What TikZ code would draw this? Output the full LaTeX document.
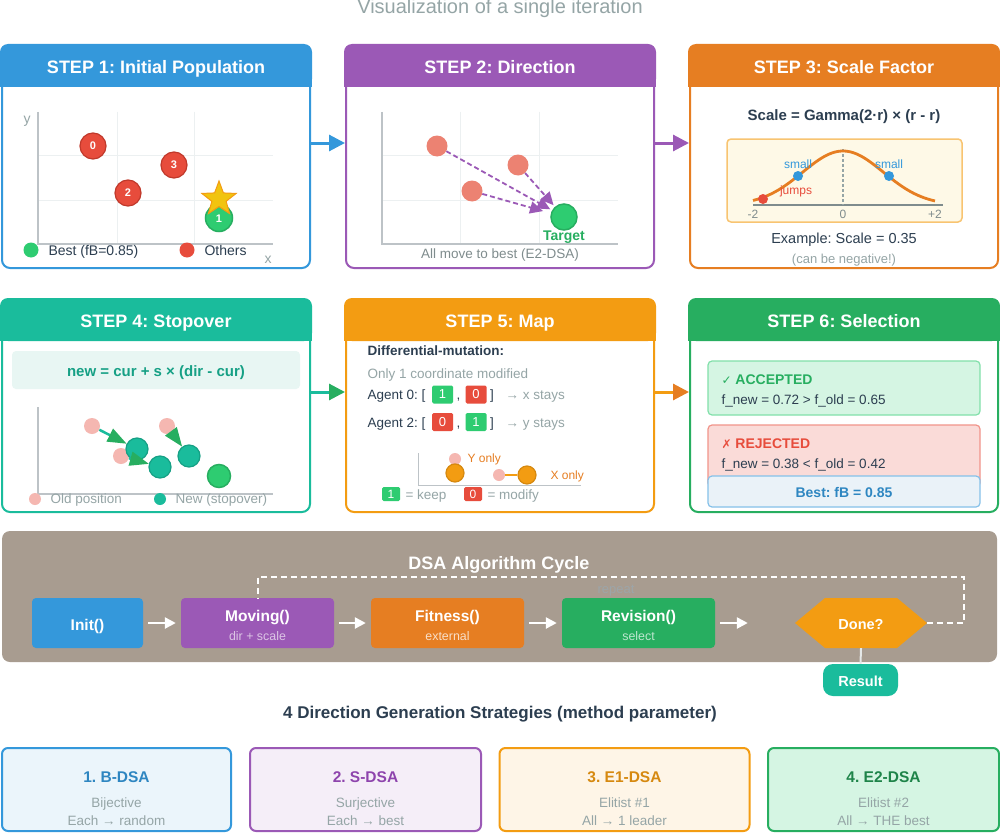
\documentclass[tikz,border=0pt]{standalone}
\usepackage{fontspec}
\setmainfont{Liberation Sans}
\newfontfamily\djv{DejaVu Sans}
\usetikzlibrary{arrows.meta,shapes.geometric}
\frenchspacing
\definecolor{cblue}{HTML}{3498DB}
\definecolor{cbluet}{HTML}{2E86C1}
\definecolor{cpurple}{HTML}{9B59B6}
\definecolor{cpurplet}{HTML}{8E44AD}
\definecolor{corange}{HTML}{E67E22}
\definecolor{cteal}{HTML}{1ABC9C}
\definecolor{ctealt}{HTML}{16A085}
\definecolor{cyell}{HTML}{F39C12}
\definecolor{cyellt}{HTML}{D68910}
\definecolor{cgreen}{HTML}{27AE60}
\definecolor{cgreent}{HTML}{1E8449}
\definecolor{cgreenl}{HTML}{2ECC71}
\definecolor{cdark}{HTML}{2C3E50}
\definecolor{cgray}{HTML}{7F8C8D}
\definecolor{cgrayl}{HTML}{95A5A6}
\definecolor{cred}{HTML}{E74C3C}
\definecolor{credd}{HTML}{C0392B}
\definecolor{csalmon}{HTML}{EC8272}
\definecolor{cpink}{HTML}{F5B7B1}
\definecolor{cgrid}{HTML}{ECF0F1}
\definecolor{caxis}{HTML}{BDC3C7}
\definecolor{ccyc}{HTML}{A89C90}
\definecolor{cstar}{HTML}{F1C40F}
\definecolor{cinner}{HTML}{FEF9E7}
\definecolor{cinnerb}{HTML}{F8C471}
\definecolor{cform}{HTML}{E8F6F3}
\definecolor{cacc}{HTML}{D5F5E3}
\definecolor{caccb}{HTML}{82E0AA}
\definecolor{crej}{HTML}{FADBD8}
\definecolor{crejb}{HTML}{F1948A}
\definecolor{cbest}{HTML}{EAF2F8}
\definecolor{cbestb}{HTML}{85C1E9}
\definecolor{cs1}{HTML}{EBF5FB}
\definecolor{cs2}{HTML}{F5EEF8}
\definecolor{cs3}{HTML}{FEF5E7}
\definecolor{crep}{HTML}{9DA5A8}
\newcommand{\fsz}[1]{\fontsize{#1}{#1}\selectfont}
\tikzset{
  panel/.style={draw=#1, line width=2pt, rounded corners=8pt, fill=white, minimum width=308pt, inner sep=0pt},
  htext/.style={text=white, font=\bfseries\fsz{18}, anchor=base},
  parr/.style={line width=3pt, #1, -{Triangle[length=16pt,width=16pt]}},
  gridl/.style={cgrid, line width=1pt},
  axisl/.style={caxis, line width=1.5pt},
  rc/.style={circle, fill=cred, draw=credd, line width=1.2pt, minimum size=26pt, inner sep=0pt, text=white, font=\bfseries\fsz{11}},
  gc/.style={circle, fill=cgreenl, draw=cgreen, line width=1.5pt, minimum size=#1, inner sep=0pt, text=white, font=\bfseries\fsz{11}},
  dot/.style={circle, fill=#1, minimum size=10pt, inner sep=0pt},
  sal/.style={circle, fill=csalmon, minimum size=21pt, inner sep=0pt},
  darr/.style={cpurple, dash pattern=on 5pt off 3pt, line width=1.8pt, -{Triangle[length=13pt,width=12pt]}, shorten >=2pt},
  pk/.style={circle, fill=cpink, minimum size=#1, inner sep=0pt},
  tc/.style={circle, fill=cteal, draw=ctealt, line width=1.2pt, minimum size=22pt, inner sep=0pt},
  garr/.style={cteal, line width=2.5pt, -{Triangle[length=19pt,width=14pt,color=cgreen]}},
  kb/.style={fill=#1, minimum width=21pt, minimum height=18pt, inner sep=0pt, text=white, font=\fsz{13}, rounded corners=1.5pt},
  lb/.style={fill=#1, minimum width=18pt, minimum height=14pt, inner sep=0pt, text=white, font=\fsz{12}, rounded corners=1.5pt},
  oc/.style={circle, fill=cyell, draw=cyellt, line width=1.2pt, minimum size=18pt, inner sep=0pt},
  sbox/.style={rounded corners=4pt, line width=1.2pt, minimum width=272pt, inner sep=0pt},
  cbox/.style={fill=#1, rounded corners=4pt, minimum height=50pt, inner sep=0pt},
  ct/.style={anchor=base, text=white, font=\bfseries\fsz{15.5}},
  cs/.style={anchor=base, text=#1, font=\fsz{12.4}},
  warr/.style={white, line width=2.5pt, -{Triangle[length=11pt,width=11pt]}},
  strat/.style={draw=#1, line width=2pt, rounded corners=6pt, minimum height=83pt, inner sep=0pt},
  stt/.style={anchor=base, text=#1, font=\bfseries\fsz{15.5}},
  sts/.style={anchor=base, text=cgrayl, font=\fsz{13.5}},
}
\begin{document}
\begin{tikzpicture}[x=1pt,y=-1pt]
\useasboundingbox (0,0) rectangle (1000,832);
\fill[white] (0,0) rectangle (1000,832);

% title
\node[anchor=base, text=cgrayl, font=\fsz{20}] (title) at (500,14) {Visualization of a single iteration};

% ---------- panels
\node[panel=cblue, minimum height=222pt] (p1) at (156,157) {};
\node[panel=cpurple, minimum height=222pt] (p2) at (500,157) {};
\node[panel=corange, minimum height=222pt] (p3) at (844,157) {};
\node[panel=cteal, minimum height=212pt] (p4) at (156,406) {};
\node[panel=cyell, minimum height=212pt] (p5) at (500,406) {};
\node[panel=cgreen, minimum height=212pt] (p6) at (844,406) {};
\foreach \p/\c in {p1/cblue,p2/cpurple,p3/corange,p4/cteal,p5/cyell,p6/cgreen}{
  \fill[\c, rounded corners=8pt] ([xshift=-1pt,yshift=1pt]\p.north west) rectangle ([xshift=1pt,yshift=-42pt]\p.north east);
  \fill[\c] ([xshift=-1pt,yshift=-30pt]\p.north west) rectangle ([xshift=1pt,yshift=-42pt]\p.north east);
}
\node[htext] (h1) at ([yshift=-29pt]p1.north) {STEP 1: Initial Population};
\node[htext] (h2) at ([yshift=-29pt]p2.north) {STEP 2: Direction};
\node[htext] (h3) at ([yshift=-29pt]p3.north) {STEP 3: Scale Factor};
\node[htext] (h4) at ([yshift=-28pt]p4.north) {STEP 4: Stopover};
\node[htext] (h5) at ([yshift=-28pt]p5.north) {STEP 5: Map};
\node[htext] (h6) at ([yshift=-28pt]p6.north) {STEP 6: Selection};

% panel arrows
\draw[parr=cblue] ([yshift=14pt]p1.east) -- ([yshift=14pt]p2.west);
\draw[parr=cpurple] ([yshift=14pt]p2.east) -- ([yshift=14pt]p3.west);
\draw[line width=3pt, cteal, -{Triangle[length=16pt,width=16pt,color=cgreen]}] ([yshift=14pt]p4.east) -- ([yshift=14pt]p5.west);
\draw[line width=3pt, cyell, -{Triangle[length=16pt,width=16pt,color=corange]}] ([yshift=14pt]p5.east) -- ([yshift=14pt]p6.west);

% ---------- STEP 1
\draw[gridl] (117,112) -- (117,244) (194,112) -- (194,244) (38,155) -- (273,155) (38,200) -- (273,200);
\draw[axisl] (38,112) -- (38,244) -- (273,244);
\node[anchor=base, text=cgrayl, font=\fsz{14}] (ylab) at (27,124) {y};
\node[anchor=base, text=cgrayl, font=\fsz{14}] (xlab) at (268,263) {x};
\node[rc] (a0) at (93,146) {0};
\node[rc] (a3) at (174,165) {3};
\node[rc] (a2) at (128,193) {2};
\node[gc=27pt] (a1) at (219,218) {};
\node[star, star points=5, star point ratio=2.4, fill=cstar, draw=cyell, line width=1pt, minimum size=36pt, inner sep=0pt] (st) at (219,199) {};
\node[text=white, font=\bfseries\fsz{11}] (a1t) at (219,219) {1};
\node[dot=cgreenl, minimum size=15pt] (lg1) at (31,250) {};
\node[anchor=base west, font=\fsz{14}, text=cdark] (lt1) at (45,255) {Best (fB=0.85)};
\node[dot=cred, minimum size=15pt] (lg2) at (187,250) {};
\node[anchor=base west, font=\fsz{14}, text=cdark] (lt2) at (201,255) {Others};

% ---------- STEP 2
\draw[gridl] (460,112) -- (460,244) (539,112) -- (539,244) (382,155) -- (618,155) (382,200) -- (618,200);
\draw[axisl] (382,112) -- (382,244) -- (618,244);
\node[sal] (b0) at (437,146) {};
\node[sal] (b1) at (518,165) {};
\node[sal] (b2) at (472,191) {};
\node[gc=26pt] (tg) at (564,217) {};
\draw[darr] (b0) -- (tg);
\draw[darr] (b1) -- (tg);
\draw[darr, shorten >=8pt] (b2) -- (tg);
\node[anchor=base, font=\bfseries\fsz{14}, text=cgreen] (tl) at (564,240) {Target};
\node[anchor=base, font=\fsz{13.5}, text=cgray] (cap2) at (500,258) {All move to best (E2-DSA)};

% ---------- STEP 3
\node[anchor=base, font=\bfseries\fsz{15}, text=cdark] (form3) at (844,121) {Scale = Gamma(2·r) × (r - r)};
\node[draw=cinnerb, fill=cinner, rounded corners=4pt, line width=1.5pt, minimum width=235pt, minimum height=83pt, inner sep=0pt] (sb) at (844.5,180.5) {};
\draw[cgray, line width=1.2pt] (753,205) -- (943,205);
\draw[cgrayl, dash pattern=on 3pt off 2pt, line width=1.2pt] (843,149) -- (843,205);
\draw[corange, line width=2.8pt, line join=round] plot[domain=753:935, samples=40, smooth] (\x, {205-54*exp(-((\x-843)^2)/3266)});
\node[dot=cred] (pj) at (763,199) {};
\node[dot=cblue] (ps1) at (798,176) {};
\node[dot=cblue] (ps2) at (889,176) {};
\node[anchor=base, font=\fsz{12}, text=cblue] (ls1) at (798,168) {small};
\node[anchor=base, font=\fsz{12}, text=cblue] (ls2) at (889,168) {small};
\node[anchor=base, font=\fsz{12}, text=cred] (lj) at (796,194) {jumps};
\node[anchor=base, font=\fsz{12}, text=cgray] (tk1) at (753,218) {-2};
\node[anchor=base, font=\fsz{12}, text=cgray] (tk2) at (843,218) {0};
\node[anchor=base, font=\fsz{12}, text=cgray] (tk3) at (935,218) {+2};
\node[anchor=base, font=\fsz{14.5}, text=cdark] (ex3) at (844,243) {Example: Scale = 0.35};
\node[anchor=base, font=\fsz{13}, text=cgrayl] (neg3) at (844,263) {(can be negative!)};

% ---------- STEP 4
\node[fill=cform, rounded corners=4pt, minimum width=288pt, minimum height=38pt, inner sep=0pt] (fb) at (156,370) {};
\node[anchor=base, font=\bfseries\fsz{15}, text=ctealt] (fbt) at (156,376) {new = cur + s × (dir - cur)};
\draw[axisl] (38,407) -- (38,494) -- (273,494);
\node[pk=16pt] (o1) at (92,426) {};
\node[pk=16pt] (o2) at (167,426) {};
\node[pk=16pt] (o3) at (121,456) {};
\node[tc] (n1) at (137,449) {};
\node[tc] (n2) at (160,467) {};
\node[tc] (n3) at (189,456) {};
\node[gc=23pt] (g4) at (219,476) {};
\draw[garr] (o1) -- (n1);
\draw[garr] (o2) -- (n3);
\draw[garr] (o3) -- (n2);
\node[pk=12pt] (lo) at (35,499) {};
\node[anchor=base west, font=\fsz{13.5}, text=cgrayl] (lot) at (47,503) {Old position};
\node[circle, fill=cteal, minimum size=12pt, inner sep=0pt] (ln) at (160,499) {};
\node[anchor=base west, font=\fsz{13.5}, text=cgrayl] (lnt) at (172,503) {New (stopover)};

% ---------- STEP 5
\node[anchor=base west, font=\bfseries\fsz{13.5}, text=cdark] (dm) at (364,355) {Differential-mutation:};
\node[anchor=base west, font=\fsz{13.5}, text=cgrayl] (oc1) at (364,378) {Only 1 coordinate modified};
\node[anchor=base west, font=\fsz{13.5}, text=cdark] (ag0) at (364,399) {Agent 0: [};
\node[kb=cgreenl] (k01) at (442.5,394.5) {1};
\node[anchor=base, font=\fsz{13.5}, text=cdark] (c0) at (458.5,399) {,};
\node[kb=cred] (k02) at (476,394.5) {0};
\node[anchor=base, font=\fsz{13.5}, text=cdark] (r0) at (492,399) {]};
\node[anchor=base west, font=\fsz{13.5}, text=cgrayl] (s0) at (502,399) {→ x stays};
\node[anchor=base west, font=\fsz{13.5}, text=cdark] (ag2) at (364,427) {Agent 2: [};
\node[kb=cred] (k21) at (442.5,422) {0};
\node[anchor=base, font=\fsz{13.5}, text=cdark] (c2) at (458.5,427) {,};
\node[kb=cgreenl] (k22) at (476,422) {1};
\node[anchor=base, font=\fsz{13.5}, text=cdark] (r2) at (492,427) {]};
\node[anchor=base west, font=\fsz{13.5}, text=cgrayl] (s2) at (502,427) {→ y stays};
\draw[caxis, line width=1pt] (418,453) -- (418,485) -- (581,485);
\node[pk=12pt] (my0) at (455,459) {};
\node[oc] (my1) at (455,473) {};
\node[anchor=base west, font=\fsz{12}, text=corange] (yo) at (464,462) {Y only};
\node[pk=12pt] (mx0) at (499,475) {};
\node[oc] (mx1) at (527,475) {};
\draw[cyell, line width=1.5pt] (mx0) -- (mx1);
\node[anchor=base west, font=\fsz{12}, text=corange] (xo) at (547,479) {X only};
\node[lb=cgreenl] (lk) at (391,494) {1};
\node[anchor=base west, font=\fsz{13.5}, text=cgrayl] (lkt) at (402,499) {= keep};
\node[lb=cred] (lm) at (473,494) {0};
\node[anchor=base west, font=\fsz{13.5}, text=cgrayl] (lmt) at (484,499) {= modify};

% ---------- STEP 6
\node[sbox, draw=caccb, fill=cacc, minimum height=54pt] (acc) at (844,388) {};
\node[anchor=base west, font=\bfseries\fsz{14}, text=cgreen] (acct) at (718,384) {{\djv\mdseries\fsz{12}✓}\ ACCEPTED};
\node[anchor=base west, font=\fsz{13.5}, text=cdark] (accs) at (718,404) {f\_new = 0.72 > f\_old = 0.65};
\node[sbox, draw=crejb, fill=crej, minimum height=62pt] (rej) at (844,456) {};
\node[anchor=base west, font=\bfseries\fsz{14}, text=cred] (rejt) at (718,448) {{\djv\mdseries\fsz{12}✗}\ REJECTED};
\node[anchor=base west, font=\fsz{13.5}, text=cdark] (rejs) at (718,468) {f\_new = 0.38 < f\_old = 0.42};
\node[sbox, draw=cbestb, fill=cbest, minimum height=31pt] (best) at (844,491.5) {};
\node[anchor=base, font=\bfseries\fsz{14}, text=cbluet] (bestt) at (844,497) {Best: fB = 0.85};

% ---------- Cycle
\node[fill=ccyc, rounded corners=8pt, minimum width=995pt, minimum height=131pt, inner sep=0pt] (cyc) at (499.5,596.5) {};
\node[anchor=base, text=white, font=\bfseries\fsz{18}] (cyct) at (499,569) {DSA Algorithm Cycle};
\node[anchor=base, text=crep, font=\fsz{13}] (rep) at (616,593) {repeat};
\node[cbox=cblue, minimum width=111pt] (init) at (87.5,623) {};
\node[cbox=cpurple, minimum width=153pt] (mov) at (257.5,623) {};
\node[cbox=corange, minimum width=153pt] (fit) at (447.5,623) {};
\node[cbox=cgreen, minimum width=153pt] (rev) at (638.5,623) {};
\node[ct] (initt) at (87.5,630) {Init()};
\node[ct] (movt) at (257.5,621) {Moving()};
\node[cs=white!65!cpurple] (movs) at (257.5,640) {dir + scale};
\node[ct] (fitt) at (447.5,621) {Fitness()};
\node[cs=white!75!corange] (fits) at (447.5,640) {external};
\node[ct] (revt) at (638.5,621) {Revision()};
\node[cs=white!70!cgreen] (revs) at (638.5,640) {select};
\fill[cyell] (795,623) -- (825,598) -- (897,598) -- (927,623) -- (897,648) -- (825,648) -- cycle;
\node[minimum width=132pt, minimum height=50pt, inner sep=0pt] (done) at (861,623) {};
\node[anchor=base, text=white, font=\bfseries\fsz{14.5}] (donet) at (861,629) {Done?};
\node[fill=cteal, rounded corners=10pt, minimum width=75pt, minimum height=32pt, inner sep=0pt] (res) at (860.5,680) {};
\node[anchor=base, text=white, font=\bfseries\fsz{14.5}] (rest) at (860.5,686) {Result};
\draw[warr, shorten <=5pt, shorten >=5pt] (init) -- (mov);
\draw[warr, shorten <=5pt, shorten >=5pt] (mov) -- (fit);
\draw[warr, shorten <=5pt, shorten >=5pt] (fit) -- (rev);
\draw[warr, shorten <=5pt, shorten >=47pt] (rev) -- (done);
\coordinate (lp1) at (964,623);
\coordinate (lp2) at (964,577);
\draw[white, line width=2pt, dash pattern=on 6pt off 4pt] (done.east) -- (lp1) -- (lp2) -- (mov.north |- lp2) -- (mov.north);
\draw[white!80!cgray, line width=2pt] (done.south) -- (res.north);

% ---------- Strategies
\node[anchor=base, text=cdark, font=\bfseries\fsz{17}] (sttl) at (500,718) {4 Direction Generation Strategies (method parameter)};
\node[strat=cblue, fill=cs1, minimum width=229pt] (s1) at (116.5,789.5) {};
\node[strat=cpurple, fill=cs2, minimum width=231pt] (s2) at (365.5,789.5) {};
\node[strat=cyell, fill=cs3, minimum width=250pt] (s3) at (624.5,789.5) {};
\node[strat=cgreen, fill=cacc, minimum width=231pt] (s4) at (883.5,789.5) {};
\node[stt=cbluet] (s1t) at (116.5,782) {1. B-DSA};
\node[sts] (s1a) at (116.5,807) {Bijective};
\node[sts] (s1b) at (116.5,825) {Each → random};
\node[stt=cpurplet] (s2t) at (365.5,782) {2. S-DSA};
\node[sts] (s2a) at (365.5,807) {Surjective};
\node[sts] (s2b) at (365.5,825) {Each → best};
\node[stt=cyellt] (s3t) at (624.5,782) {3. E1-DSA};
\node[sts] (s3a) at (624.5,807) {Elitist \#1};
\node[sts] (s3b) at (624.5,825) {All → 1 leader};
\node[stt=cgreent] (s4t) at (883.5,782) {4. E2-DSA};
\node[sts] (s4a) at (883.5,807) {Elitist \#2};
\node[sts] (s4b) at (883.5,825) {All → THE best};
\end{tikzpicture}
\end{document}
